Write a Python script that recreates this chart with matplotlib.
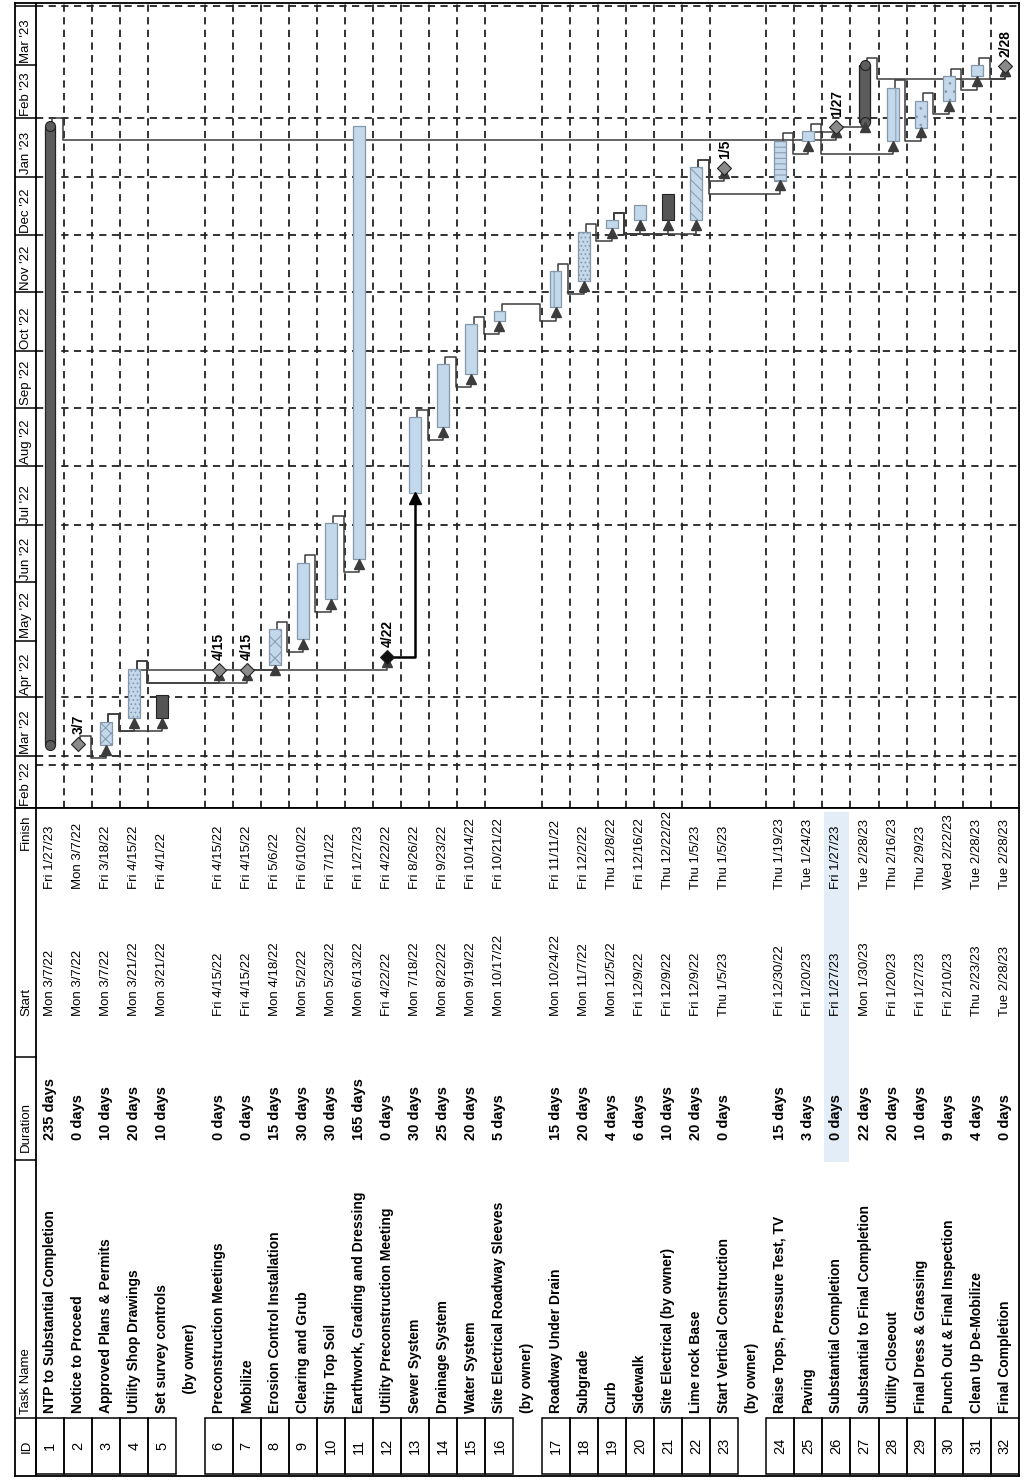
import datetime as dt
import matplotlib
matplotlib.use("Agg")
import matplotlib.pyplot as plt
import matplotlib.dates as mdates
from matplotlib.patches import Rectangle

plt.rcParams['font.family'] = ['Liberation Sans', 'DejaVu Sans']
plt.rcParams['hatch.linewidth'] = 0.7

ids = list(range(1, 33))
names = [
    "NTP to Substantial Completion", "Notice to Proceed", "Approved Plans & Permits",
    "Utility Shop Drawings", "Set survey controls\n     (by owner)", "Preconstruction Meetings",
    "Mobilize", "Erosion Control Installation", "Clearing and Grub", "Strip Top Soil",
    "Earthwork, Grading and Dressing", "Utility Preconstruction Meeting", "Sewer System",
    "Drainage System", "Water System", "Site Electrical Roadway Sleeves\n(by owner)",
    "Roadway Under Drain", "Subgrade", "Curb", "Sidewalk", "Site Electrical (by owner)",
    "Lime rock Base", "Start Vertical Construction\n(by owner)", "Raise Tops, Pressure Test, TV",
    "Paving", "Substantial Completion", "Substantial to Final Completion", "Utility Closeout",
    "Final Dress & Grassing", "Punch Out & Final Inspection", "Clean Up De-Mobilize",
    "Final Completion"]
durations = [235, 0, 10, 20, 10, 0, 0, 15, 30, 30, 165, 0, 30, 25, 20, 5,
             15, 20, 4, 6, 10, 20, 0, 15, 3, 0, 22, 20, 10, 9, 4, 0]
starts = ["Mon 3/7/22", "Mon 3/7/22", "Mon 3/7/22", "Mon 3/21/22", "Mon 3/21/22",
          "Fri 4/15/22", "Fri 4/15/22", "Mon 4/18/22", "Mon 5/2/22", "Mon 5/23/22",
          "Mon 6/13/22", "Fri 4/22/22", "Mon 7/18/22", "Mon 8/22/22", "Mon 9/19/22",
          "Mon 10/17/22", "Mon 10/24/22", "Mon 11/7/22", "Mon 12/5/22", "Fri 12/9/22",
          "Fri 12/9/22", "Fri 12/9/22", "Thu 1/5/23", "Fri 12/30/22", "Fri 1/20/23",
          "Fri 1/27/23", "Mon 1/30/23", "Fri 1/20/23", "Fri 1/27/23", "Fri 2/10/23",
          "Thu 2/23/23", "Tue 2/28/23"]
finishes = ["Fri 1/27/23", "Mon 3/7/22", "Fri 3/18/22", "Fri 4/15/22", "Fri 4/1/22",
            "Fri 4/15/22", "Fri 4/15/22", "Fri 5/6/22", "Fri 6/10/22", "Fri 7/1/22",
            "Fri 1/27/23", "Fri 4/22/22", "Fri 8/26/22", "Fri 9/23/22", "Fri 10/14/22",
            "Fri 10/21/22", "Fri 11/11/22", "Fri 12/2/22", "Thu 12/8/22", "Fri 12/16/22",
            "Thu 12/22/22", "Thu 1/5/23", "Thu 1/5/23", "Thu 1/19/23", "Tue 1/24/23",
            "Fri 1/27/23", "Tue 2/28/23", "Thu 2/16/23", "Thu 2/9/23", "Wed 2/22/23",
            "Tue 2/28/23", "Tue 2/28/23"]
links = [(2, 3), (3, 4), (3, 5), (4, 6), (4, 7), (7, 8), (4, 12), (8, 9), (9, 10),
         (10, 11), (12, 13), (13, 14), (14, 15), (15, 16), (16, 17), (17, 18),
         (18, 19), (19, 20), (19, 21), (19, 22), (22, 23), (22, 24), (24, 25),
         (25, 26), (25, 28), (1, 26), (26, 27), (28, 29), (29, 30), (30, 31),
         (31, 32), (27, 32)]
summary_rows = [1, 27]
owner_rows = [5, 21]
view_start = dt.datetime(2022, 2, 1, 13)
view_end = dt.datetime(2023, 4, 2, 19)
status_date = dt.datetime(2022, 2, 24, 12)
no_grid_months = [(2022, 5), (2022, 6), (2023, 3)]

# ---- styling ----
hatches = {3: 'xxx', 4: '....', 8: 'xx', 17: '||', 18: '....', 22: '\\\\\\', 24: '---',
           28: '||', 29: '..', 30: '..'}
bar_face = '#c3d8ea'
bar_edge = '#8498aa'
dark = '#555555'
link_col = '#3c3c3c'
dash = (0, (4, 3))


def parse(s):
    return mdates.date2num(dt.datetime.strptime(s.split()[1], "%m/%d/%y"))


start_n = {i: parse(s) for i, s in zip(ids, starts)}
finish_n = {i: parse(s) for i, s in zip(ids, finishes)}
dur = dict(zip(ids, durations))

# slots: two-line names take two table rows
slot, nslots, k = {}, {}, 0
for i, nm in zip(ids, names):
    slot[i] = k
    nslots[i] = nm.count("\n") + 1
    k += nslots[i]
total_slots = k

W, H = 1029, 1480
fig = plt.figure(figsize=(W / 100, H / 100), dpi=100)
left_px, right_px, first_px = 15, 1019, 36
pitch = (right_px - first_px) / total_slots
x_left = -(first_px - left_px) / pitch
top_px, mid_px, bot_px = 3, 808, 1476

ax = fig.add_axes([left_px / W, 1 - mid_px / H, (right_px - left_px) / W, (mid_px - top_px) / H])
tb = fig.add_axes([left_px / W, 1 - bot_px / H, (right_px - left_px) / W, (bot_px - mid_px) / H])
for a in (ax, tb):
    a.set_xlim(x_left, total_slots)
    a.set_xticks([])
    a.set_yticks([])
    for s in a.spines.values():
        s.set_linewidth(1.3)
ax.set_ylim(mdates.date2num(view_start), mdates.date2num(view_end))
tb.set_ylim(bot_px, mid_px)


def xc(i):
    return slot[i] + 0.5


def top_of(i):
    return finish_n[i] + (1 if dur[i] > 0 else 0.5)


def bottom_of(i):
    return start_n[i] + (0 if dur[i] > 0 else 0.5)


# ---- timescale column ----
y0, y1 = ax.get_ylim()
months = []
m = dt.datetime(2022, 2, 1)
while m < view_end:
    months.append(m)
    m = dt.datetime(m.year + m.month // 12, m.month % 12 + 1, 1)
for m in months:
    mn = mdates.date2num(m)
    if mn > y0:
        ax.plot([x_left, 0], [mn, mn], color='k', lw=1.1, zorder=5)
        if (m.year, m.month) not in no_grid_months:
            ax.plot([0, total_slots], [mn, mn], color='#222', lw=1.3, ls=dash, zorder=1)
    if mn < y1 - 20:
        ax.text(x_left / 2 + 0.03, max(mn, y0) + 1.2, m.strftime("%b '%y"), rotation=90,
                rotation_mode='anchor', ha='left', va='center', fontsize=9.5)
sd = mdates.date2num(status_date)
ax.plot([0, total_slots], [sd, sd], color='#222', lw=1.3, ls=dash, zorder=1)
ax.axvline(0, color='k', lw=1.3, zorder=5)

# row gridlines (vertical dashed)
for i in ids:
    b = slot[i] + nslots[i]
    if b < total_slots:
        ax.axvline(b, color='#222', lw=1.3, ls=dash, zorder=1)

# ---- links ----
u, v = 4, 7
for p, s in links:
    xp, xs = xc(p), xc(s)
    yf = top_of(p)
    ys = bottom_of(s)
    col = 'k' if (p, s) == (12, 13) else link_col
    lw = 1.8 if (p, s) == (12, 13) else 1.1
    if ys > yf + 2:
        yy = finish_n[p] + 0.5
        xs_path = [xp + 0.18, xs, xs]
        ys_path = [yy, yy, ys - 2.6]
    else:
        xb = slot[p] + nslots[p] - 0.05
        xs_path = [xp + 0.08, xp + 0.08, xb, xb, xs, xs]
        ys_path = [yf, yf + u, yf + u, ys - v, ys - v, ys - 2.6]
    ax.plot(xs_path, ys_path, color=col, lw=lw, zorder=2, solid_joinstyle='round')
    ax.plot(xs, ys - 2.6, marker='^', ms=8 if col == 'k' else 7, color=col,
            mec=col, zorder=4, ls='none')

# ---- bars ----
for i in ids:
    if dur[i] == 0:
        continue
    b0, b1 = start_n[i], finish_n[i] + 1
    if i in summary_rows:
        ax.bar(xc(i), b1 - b0, bottom=b0, width=0.36, color='#5c5c5c', edgecolor='#222',
               lw=0.9, zorder=3)
        ax.plot([xc(i), xc(i)], [b0, b1], 'o', ms=7.2, color='#5c5c5c', mec='#222',
                mew=0.8, zorder=3)
    elif i in owner_rows:
        ax.bar(xc(i), b1 - b0, bottom=b0, width=0.42, color=dark, edgecolor='#222',
               lw=0.8, zorder=3)
    else:
        ax.bar(xc(i), b1 - b0, bottom=b0, width=0.42, color=bar_face, edgecolor=bar_edge,
               lw=0.9, hatch=hatches.get(i, None), zorder=3)

# ---- milestones ----
for i in ids:
    if dur[i] != 0:
        continue
    d = mdates.num2date(start_n[i])
    yv = bottom_of(i)
    face = '#111' if i == 12 else '#8a8a8a'
    ax.plot(xc(i), yv, marker='D', ms=7.5, color=face, mec='#222', mew=0.8, zorder=4)
    ax.text(xc(i) + 0.02, yv + 5, f"{d.month}/{d.day}", rotation=90, rotation_mode='anchor',
            ha='left', va='center', fontsize=10, fontweight='bold', zorder=6)

# ---- table ----
hdr_x = x_left / 2 + 0.03
tb.axvline(0, color='k', lw=1.3)
for yy in (1418, 1160, 1057):
    tb.plot([x_left, 0], [yy, yy], color='k', lw=1.1)
tb.text(hdr_x, 1446, "ID", rotation=90, ha='center', va='center', fontsize=9.5)
for label, yy in (("Task Name", 1414), ("Duration", 1152), ("Start", 1016), ("Finish", 850)):
    tb.text(hdr_x, yy, label, rotation=90, rotation_mode='anchor', ha='left', va='center',
            fontsize=9.5)

# highlighted row (Substantial Completion)
tb.add_patch(Rectangle((slot[26] + 0.05, 812), 0.9, 350, color='#e2edf7', zorder=0, lw=0))

for i, nm, sv, fv in zip(ids, names, starts, finishes):
    x = xc(i)
    tb.add_patch(Rectangle((slot[i], 1418), 1, 56, fill=False, ec='k', lw=1.1))
    tb.text(x, 1446, str(i), rotation=90, ha='center', va='center', fontsize=10.5)
    for j, line in enumerate(nm.split("\n")):
        tb.text(x + j, 1413, line, rotation=90, rotation_mode='anchor', ha='left',
                va='center', fontsize=10, fontweight='bold')
    tb.text(x, 1140, f"{dur[i]} days", rotation=90, rotation_mode='anchor', ha='left',
            va='center', fontsize=10.5, fontweight='bold')
    tb.text(x, 1016, sv, rotation=90, rotation_mode='anchor', ha='left', va='center',
            fontsize=9.5)
    tb.text(x, 889, fv, rotation=90, rotation_mode='anchor', ha='left', va='center',
            fontsize=9.5)

fig.savefig("out.png", dpi=100)
